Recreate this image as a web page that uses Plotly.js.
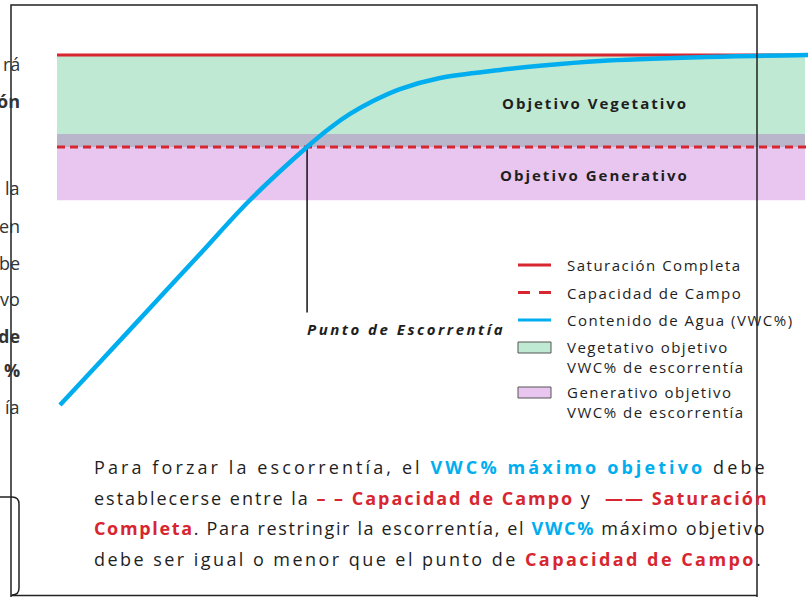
<!DOCTYPE html>
<html>
<head>
<meta charset="utf-8">
<script src="https://cdn.plot.ly/plotly-3.0.1.min.js"></script>
<style>
  html, body { margin: 0; padding: 0; background: #fff; }
  #chart { width: 808px; height: 597px; }
</style>
</head>
<body>
<div id="chart"></div>
<script>
// --- data (x = tiempo, y = VWC %) ---
const tiempo = [0.4, 5.73, 12.38, 19.04, 25.7, 33.29, 36.35, 39.01, 42.08, 45.67, 51.0, 58.99, 64.31, 72.3, 85.62, 100];
const vwc = [11.96, 16.63, 22.5, 28.37, 34.24, 40.0, 42.07, 43.59, 45.0, 46.3, 47.5, 48.37, 48.83, 49.35, 49.76, 50];

const saturacion = 50;        // Saturación Completa
const capacidadCampo = 40;    // Capacidad de Campo
const bandaVegetativa = [40, 50];
const bandaGenerativa = [34.2, 41.4];
const puntoEscorrentia = [33.3, 22];   // x, bottom of the marker line
const xSpan = [0, 100];
const bandEnd = 99.6;

const legendNames = ["Saturación Completa", "Capacidad de Campo", "Contenido de Agua (VWC%)",
  "Vegetativo objetivo<br>VWC% de escorrentía", "Generativo objetivo<br>VWC% de escorrentía"];
const bandLabels = ["Objetivo Vegetativo", "Objetivo Generativo"];
const sideWords = ["rá", "<b>ón</b>", "la", "en", "be", "vo", "<b>de</b>", "<b>%</b>", "ía"];

// colours
const RED = "#d7262f", BLUE = "#00aeef", GREEN = "#c0e9d4", PURPLE = "#e8c6ef", OVERLAP = "#b9b6cc", INK = "#1e1e1e";
const FONT = "Open Sans, sans-serif";

// page pixel -> paper helpers (for the decoration around the chart)
const W = 808, H = 597;
const px = x => x / W;
const py = y => 1 - y / H;

const traces = [
  { x: xSpan, y: [saturacion, saturacion], mode: "lines", line: { color: RED, width: 3 }, hoverinfo: "skip" },
  { x: xSpan, y: [capacidadCampo, capacidadCampo], mode: "lines", line: { color: RED, width: 3, dash: "8px,5px" }, hoverinfo: "skip" },
  { x: [puntoEscorrentia[0], puntoEscorrentia[0]], y: [capacidadCampo, puntoEscorrentia[1]], mode: "lines", line: { color: "#111", width: 1.5 }, hoverinfo: "skip" },
  { x: tiempo, y: vwc, mode: "lines", line: { color: BLUE, width: 4.5, shape: "spline", smoothing: 1 } }
];

const shapes = [
  { type: "rect", xref: "x", yref: "y", x0: xSpan[0], x1: bandEnd, y0: bandaVegetativa[0], y1: bandaVegetativa[1], fillcolor: GREEN, line: { width: 0 }, layer: "below" },
  { type: "rect", xref: "x", yref: "y", x0: xSpan[0], x1: bandEnd, y0: bandaGenerativa[0], y1: bandaGenerativa[1], fillcolor: PURPLE, line: { width: 0 }, layer: "below" },
  { type: "rect", xref: "x", yref: "y", x0: xSpan[0], x1: bandEnd, y0: bandaVegetativa[0], y1: bandaGenerativa[1], fillcolor: OVERLAP, line: { width: 0 }, layer: "below" },
  // frame
  { type: "path", xref: "paper", yref: "paper", layer: "above",
    path: `M${px(11)},${py(597)} L${px(11)},${py(5)} L${px(757)},${py(5)} L${px(757)},${py(597)}`,
    line: { color: "#222", width: 1.5 } },
  { type: "line", xref: "paper", yref: "paper", x0: px(11), x1: px(757), y0: py(595.5), y1: py(595.5), line: { color: "#222", width: 1.5 } },
  // rounded box bottom-left
  { type: "path", xref: "paper", yref: "paper", layer: "above",
    path: `M${px(-2)},${py(497)} L${px(12)},${py(497)} Q${px(19)},${py(497)} ${px(19)},${py(504)} L${px(19)},${py(588)} Q${px(19)},${py(595)} ${px(12)},${py(595)}`,
    line: { color: "#222", width: 1.5 } }
];

const annotations = [];

// legend (drawn by hand to match the original layout)
const legY = [265, 292.5, 320, 347.5, 392.5];
const legLines = [{ color: RED, dash: "solid" }, { color: RED, dash: "12px,9px" }, { color: BLUE, dash: "solid" }];
legLines.forEach((l, i) => {
  shapes.push({ type: "line", xref: "paper", yref: "paper", x0: px(518), x1: px(551), y0: py(legY[i]), y1: py(legY[i]),
    line: { color: l.color, width: 3, dash: l.dash } });
});
[GREEN, PURPLE].forEach((c, i) => {
  const y = legY[3 + i];
  shapes.push({ type: "rect", xref: "paper", yref: "paper", x0: px(518), x1: px(551), y0: py(y - 5.5), y1: py(y + 5.5),
    fillcolor: c, line: { color: "#555", width: 1 } });
});
legendNames.forEach((name, i) => {
  annotations.push({ xref: "paper", yref: "paper", x: px(565), y: py(i < 3 ? legY[i] : legY[i] + 9.5),
    xanchor: "left", yanchor: "middle", align: "left", showarrow: false,
    text: `<span style="letter-spacing:1.5px">${name}</span>`, font: { family: FONT, size: 15, color: INK } });
});

// band labels
[[44.8, bandLabels[0]], [37.0, bandLabels[1]]].forEach(([y, t]) => {
  annotations.push({ xref: "x", yref: "y", x: 71.6, y: y, showarrow: false,
    text: `<span style="letter-spacing:2px">${t}</span>`, font: { family: FONT, size: 15, color: INK, weight: 700 } });
});

// runoff point label
annotations.push({ xref: "x", yref: "y", x: puntoEscorrentia[0] - 0.3, y: 20.2, xanchor: "left", showarrow: false,
  text: `<span style="letter-spacing:2.5px">Punto de Escorrentía</span>`,
  font: { family: FONT, size: 15, color: INK, weight: 700, style: "italic" } });

// cut-off words on the left edge
const sideY = [64, 101, 188, 226, 263, 299, 336, 370, 407];
sideWords.forEach((w, i) => {
  annotations.push({ xref: "paper", yref: "paper", x: px(21.5), y: py(sideY[i]), xanchor: "right", yanchor: "middle",
    showarrow: false, text: w, font: { family: FONT, size: 18, color: "#333" } });
});

// explanatory paragraph
const b = (t, c) => `<b><span style="color:${c}">${t}</span></b>`;
const para = [
  [467, 3.1, `Para forzar la escorrentía, el ${b("VWC% máximo objetivo", BLUE)} debe`],
  [498, 1.97, `establecerse entre la ${b("– –", RED)} ${b("Capacidad de Campo", RED)} y  ${b("——", RED)} ${b("Saturación", RED)}`],
  [528, 1.65, `${b("Completa", RED)}. Para restringir la escorrentía, el ${b("VWC%", BLUE)} máximo objetivo`],
  [559, 2.45, `debe ser igual o menor que el punto de ${b("Capacidad de Campo", RED)}.`]
];
para.forEach(([y, ls, t]) => {
  annotations.push({ xref: "paper", yref: "paper", x: px(92), y: py(y), xanchor: "left", yanchor: "middle", align: "left",
    showarrow: false, text: `<span style="letter-spacing:${ls}px">${t}</span>`, font: { family: FONT, size: 18, color: INK } });
});

const layout = {
  width: W, height: H,
  margin: { l: 0, r: 0, t: 0, b: 0 },
  paper_bgcolor: "#fff", plot_bgcolor: "rgba(0,0,0,0)",
  showlegend: false,
  xaxis: { range: [-7.59, 100], visible: false, fixedrange: true },
  yaxis: { range: [-8.913, 55.978], visible: false, fixedrange: true },
  shapes: shapes,
  annotations: annotations
};

Plotly.newPlot("chart", traces, layout, { displayModeBar: false, staticPlot: true });
</script>
</body>
</html>
